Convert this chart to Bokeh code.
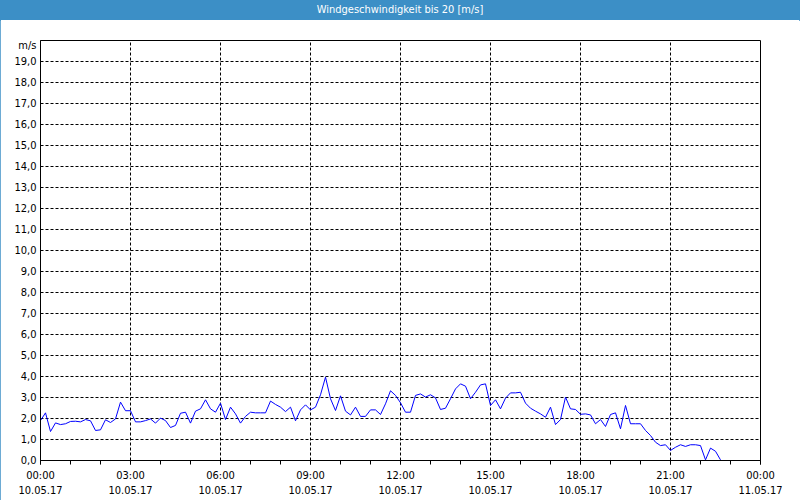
from bokeh.plotting import figure
from bokeh.models import FixedTicker, LinearAxis, Div, Range1d
from bokeh.layouts import column
from bokeh.embed import file_html
from bokeh.resources import INLINE

# wind speed in m/s, one value every 10 minutes from 00:00 on 10.05.17
speed = [
    1.90, 2.27, 1.38, 1.79, 1.71, 1.75, 1.86, 1.87, 1.84, 1.95,
    1.89, 1.43, 1.46, 1.94, 1.81, 1.98, 2.78, 2.37, 2.37, 1.84,
    1.84, 1.90, 1.98, 1.78, 2.02, 1.90, 1.57, 1.67, 2.25, 2.30,
    1.78, 2.35, 2.46, 2.89, 2.46, 2.30, 2.73, 1.95, 2.54, 2.22,
    1.78, 2.10, 2.30, 2.27, 2.27, 2.27, 2.83, 2.67, 2.54, 2.33,
    2.54, 1.89, 2.41, 2.65, 2.41, 2.54, 3.13, 3.97, 2.94, 2.38,
    3.08, 2.35, 2.17, 2.54, 2.10, 2.10, 2.41, 2.41, 2.19, 2.70,
    3.32, 3.10, 2.75, 2.30, 2.30, 3.10, 3.17, 3.02, 3.13, 2.98,
    2.43, 2.49, 2.94, 3.41, 3.65, 3.54, 2.94, 3.25, 3.60, 3.65,
    2.62, 2.89, 2.46, 2.97, 3.22, 3.22, 3.25, 2.73, 2.49, 2.35,
    2.22, 2.06, 2.54, 1.71, 1.95, 3.02, 2.46, 2.43, 2.20, 2.22,
    2.17, 1.75, 1.95, 1.62, 2.19, 2.27, 1.51, 2.62, 1.75, 1.75,
    1.75, 1.43, 1.19, 0.87, 0.71, 0.75, 0.48, 0.63, 0.75, 0.67,
    0.75, 0.75, 0.71, 0.03, 0.59, 0.44, 0.03,
]
step_minutes = 10
hours = [i * step_minutes / 60 for i in range(len(speed))]

major_hours = [0, 3, 6, 9, 12, 15, 18, 21, 24]
minor_hours = list(range(0, 25))
time_labels = ["00:00", "03:00", "06:00", "09:00", "12:00", "15:00", "18:00", "21:00", "00:00"]
date_labels = ["10.05.17"] * 8 + ["11.05.17"]
y_ticks = list(range(0, 20))
y_labels = [f"{v},0" for v in y_ticks]
y_unit = "m/s"
y_unit_pos = 19.75
title_text = "Windgeschwindigkeit bis 20 [m/s]"

FONT = "Liberation Sans Narrow, DejaVu Sans Condensed, sans-serif"
BLUE = "#3c8fc6"

p = figure(width=800, height=480, output_backend="svg", toolbar_location=None,
           x_range=Range1d(0, 24), y_range=Range1d(0, 20),
           min_border_left=40, min_border_right=40, min_border_top=20, min_border_bottom=40,
           background_fill_color="white", border_fill_color="white")
p.outline_line_color = "black"
p.outline_line_width = 1

p.line(hours, speed, line_color="#0000ff", line_width=1)

xt = FixedTicker(ticks=major_hours, minor_ticks=minor_hours)
xa = p.xaxis[0]
xa.ticker = xt
xa.major_label_overrides = {h: t for h, t in zip(major_hours, time_labels)}
xa.major_tick_in = 0
xa.major_tick_out = 4
xa.minor_tick_in = 0
xa.minor_tick_out = 4
xa.major_label_standoff = 4
xa.axis_line_color = "black"
xa.major_tick_line_color = "black"
xa.minor_tick_line_color = "black"
xa.major_label_text_font = FONT
xa.major_label_text_font_size = "11px"
xa.major_label_text_color = "black"

xa2 = LinearAxis(ticker=xt,
                 major_label_overrides={h: d for h, d in zip(major_hours, date_labels)})
xa2.major_tick_in = 0
xa2.major_tick_out = 0
xa2.minor_tick_in = 0
xa2.minor_tick_out = 0
xa2.axis_line_color = None
xa2.major_label_standoff = 1
xa2.major_label_text_font = FONT
xa2.major_label_text_font_size = "11px"
xa2.major_label_text_color = "black"
p.add_layout(xa2, "below")

ya = p.yaxis[0]
ya.ticker = FixedTicker(ticks=y_ticks + [y_unit_pos], minor_ticks=[])
overrides = {v: l for v, l in zip(y_ticks, y_labels)}
overrides[y_unit_pos] = y_unit
ya.major_label_overrides = overrides
ya.major_tick_in = 0
ya.major_tick_out = 0
ya.minor_tick_out = 0
ya.major_label_standoff = 4
ya.axis_line_color = "black"
ya.major_label_text_font = FONT
ya.major_label_text_font_size = "11px"
ya.major_label_text_color = "black"

p.xgrid.ticker = FixedTicker(ticks=major_hours[1:-1])
p.ygrid.ticker = FixedTicker(ticks=y_ticks[1:])
for g in (p.xgrid[0], p.ygrid[0]):
    g.grid_line_color = "black"
    g.grid_line_dash = "3 2"
    g.grid_line_width = 1

title = Div(text=title_text, width=800, height=20, margin=0,
            styles={"background-color": BLUE, "color": "white", "text-align": "center",
                    "font-family": FONT, "font-size": "11px", "line-height": "19px",
                    "width": "800px"})

layout = column(title, p, spacing=0,
                styles={"outline": f"1px solid {BLUE}", "outline-offset": "-1px"})

open("out.html", "w").write(file_html(layout, INLINE))
